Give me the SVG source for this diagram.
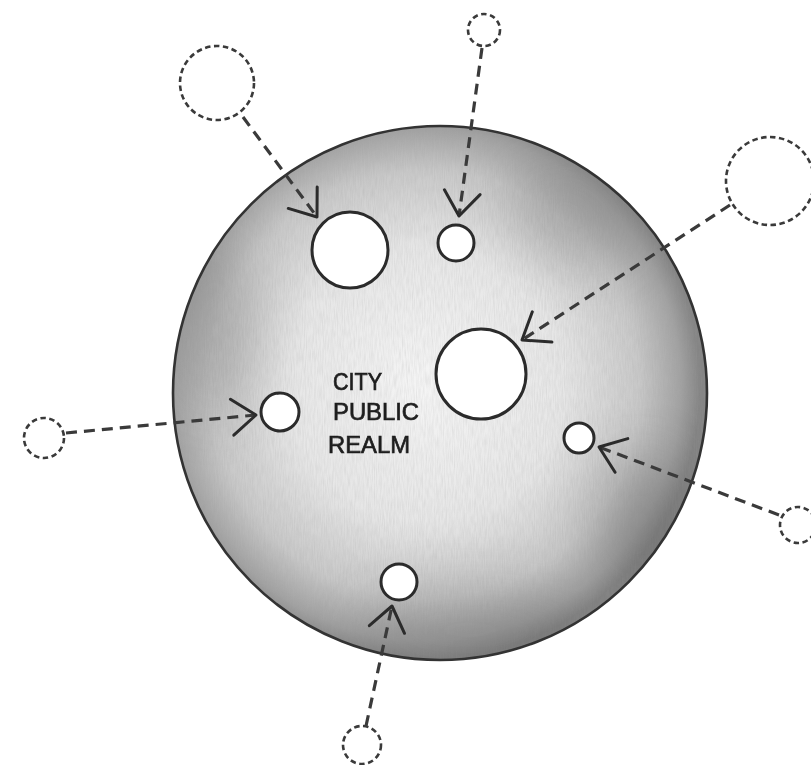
<svg xmlns="http://www.w3.org/2000/svg" width="811" height="765" viewBox="0 0 811 765">
<style>
.conn{fill:none;stroke:#3a3a3a;stroke-width:3.2;stroke-dasharray:11 7;stroke-linecap:butt}
.ghost{fill:#fff;stroke:#3a3a3a;stroke-width:2.6;stroke-dasharray:5.5 3.5}
.hole{fill:#fff;stroke:#2b2b2b;stroke-width:3}
.lbl{font-family:"Liberation Sans",Arial,sans-serif;font-size:24px;fill:#1e1e1e;stroke:#1e1e1e;stroke-width:0.7}
</style>
<defs>
<radialGradient id="shade" cx="425" cy="385" r="275" gradientUnits="userSpaceOnUse">
<stop offset="0" stop-color="#f5f5f5"/>
<stop offset="0.5" stop-color="#e6e6e6"/>
<stop offset="0.78" stop-color="#c8c8c8"/>
<stop offset="0.93" stop-color="#a2a2a2"/>
<stop offset="1" stop-color="#858585"/>
</radialGradient>
<filter id="grain" x="0" y="0" width="1" height="1">
<feTurbulence type="fractalNoise" baseFrequency="0.9 0.08" numOctaves="2" seed="4"/>
<feColorMatrix type="matrix" values="0 0 0 0 0.35  0 0 0 0 0.35  0 0 0 0 0.35  0 0 0 -1.6 1.05"/>
</filter>
<filter id="soft" x="-50%" y="-50%" width="200%" height="200%"><feGaussianBlur stdDeviation="28"/></filter>
<clipPath id="disc"><circle cx="440" cy="393" r="267"/></clipPath>
<marker id="vee" markerUnits="userSpaceOnUse" viewBox="-30 -22 34 44" refX="0" refY="0" markerWidth="34" markerHeight="44" orient="auto" overflow="visible">
<path d="M -24 -18 L 0 0 L -24 18" fill="none" stroke="#2b2b2b" stroke-width="3" stroke-linecap="round" stroke-linejoin="round"/>
</marker>
</defs>
<rect width="811" height="765" fill="#fff"/>
<g id="realm">
<circle cx="440" cy="393" r="267" fill="url(#shade)"/>
<g clip-path="url(#disc)" opacity="0.22">
<rect x="173" y="126" width="534" height="534" filter="url(#grain)"/>
</g>
<g clip-path="url(#disc)">
<g opacity="0.22" filter="url(#soft)">
<ellipse cx="570" cy="215" rx="70" ry="45" fill="#444" transform="rotate(30 570 215)"/>
<ellipse cx="470" cy="630" rx="120" ry="40" fill="#444"/>
<ellipse cx="215" cy="330" rx="40" ry="90" fill="#444"/>
<ellipse cx="640" cy="520" rx="50" ry="70" fill="#444"/>
</g>
</g>
<circle cx="440" cy="393" r="267" fill="none" stroke="#333" stroke-width="2.6"/>
<text class="lbl" x="333" y="390" textLength="49" lengthAdjust="spacingAndGlyphs">CITY</text>
<text class="lbl" x="333" y="420" textLength="86" lengthAdjust="spacingAndGlyphs">PUBLIC</text>
<text class="lbl" x="328" y="453" textLength="82" lengthAdjust="spacingAndGlyphs">REALM</text>
</g>
<g id="hole-1"><circle class="hole" cx="350" cy="250" r="38"/></g>
<g id="hole-2"><circle class="hole" cx="456" cy="243" r="18"/></g>
<g id="hole-3"><circle class="hole" cx="481" cy="374" r="45"/></g>
<g id="hole-4"><circle class="hole" cx="280" cy="412" r="19"/></g>
<g id="hole-5"><circle class="hole" cx="579" cy="438" r="15"/></g>
<g id="hole-6"><circle class="hole" cx="399" cy="582" r="18"/></g>
<g id="ghost-1"><circle class="ghost" cx="217" cy="83" r="37"/></g>
<g id="ghost-2"><circle class="ghost" cx="484" cy="30" r="16"/></g>
<g id="ghost-3"><circle class="ghost" cx="770" cy="181" r="44"/></g>
<g id="ghost-4"><circle class="ghost" cx="44" cy="438" r="20"/></g>
<g id="ghost-5"><circle class="ghost" cx="798" cy="525" r="18"/></g>
<g id="ghost-6"><circle class="ghost" cx="362" cy="745" r="19"/></g>
<g id="connectors">
<line class="conn" x1="243" y1="117" x2="317" y2="217" marker-end="url(#vee)"/>
<line class="conn" x1="482" y1="48" x2="459" y2="216" marker-end="url(#vee)"/>
<line class="conn" x1="730" y1="205" x2="522" y2="340" marker-end="url(#vee)"/>
<line class="conn" x1="66" y1="433" x2="256" y2="415" marker-end="url(#vee)"/>
<line class="conn" x1="779" y1="515" x2="599" y2="447" marker-end="url(#vee)"/>
<line class="conn" x1="366" y1="726" x2="392" y2="606" marker-end="url(#vee)"/>
</g>
</svg>
